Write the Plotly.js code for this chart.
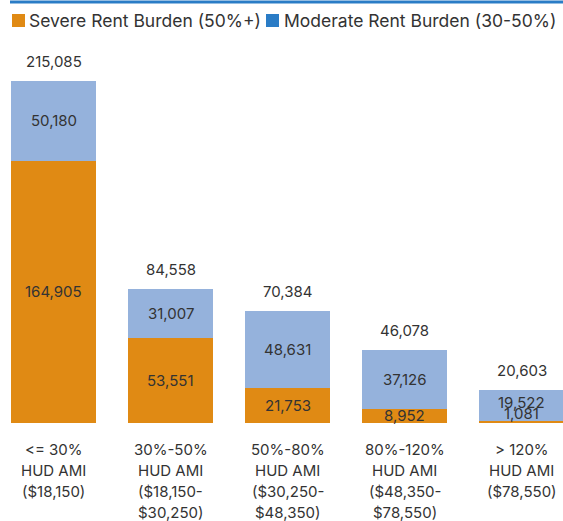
<!DOCTYPE html>
<html><head><meta charset="utf-8">
<script src="https://cdn.plot.ly/plotly-3.0.1.min.js"></script>
<style>html,body{margin:0;padding:0;background:#fff;}#chart{width:563px;height:521px;}</style>
</head><body><div id="chart"></div>
<script>
const categories = ["<= 30%", "30%-50%", "50%-80%", "80%-120%", "> 120%"];
const labelLines = [
  ["<= 30%", "HUD AMI", "($18,150)"],
  ["30%-50%", "HUD AMI", "($18,150-", "$30,250)"],
  ["50%-80%", "HUD AMI", "($30,250-", "$48,350)"],
  ["80%-120%", "HUD AMI", "($48,350-", "$78,550)"],
  ["> 120%", "HUD AMI", "($78,550)"]
];
const severe = [164905, 53551, 21753, 8952, 1081];
const moderate = [50180, 31007, 48631, 37126, 19522];
const totals = [215085, 84558, 70384, 46078, 20603];

const ORANGE = "#E08A14", LIGHTBLUE = "#95B2DC", DARKBLUE = "#2A7CC6", TXT = "#333333";
const FONT = "Inter, 'Open Sans', sans-serif";
const xs = categories.map((c, i) => i);
const fmt = v => v.toLocaleString("en-US");

const traces = [
  {type: "bar", name: "Severe Rent Burden (50%+)", x: xs, y: severe, marker: {color: ORANGE}, width: 0.726, hoverinfo: "none"},
  {type: "bar", name: "Moderate Rent Burden (30-50%)", x: xs, y: moderate, marker: {color: LIGHTBLUE}, width: 0.726, hoverinfo: "none"}
];

const maxT = Math.max(...totals);
const pxPerUnit = 342 / maxT;
const ann = [];
xs.forEach((x, i) => {
  const small = severe[i] * pxPerUnit < 10;
  ann.push({x: x, y: severe[i] / 2, text: fmt(severe[i]), showarrow: false, yshift: small ? 9 : 0,
    font: {family: FONT, size: 15, color: TXT}});
  ann.push({x: x, y: severe[i] + moderate[i] / 2, text: fmt(moderate[i]), showarrow: false, yshift: small ? 3 : 0,
    font: {family: FONT, size: 15, color: TXT}});
  ann.push({x: x, y: totals[i], text: fmt(totals[i]), showarrow: false, yanchor: "bottom", yshift: 8,
    font: {family: FONT, size: 15, color: TXT}});
  labelLines[i].forEach((ln, k) => {
    ann.push({x: x, y: 0, text: ln, showarrow: false, yanchor: "middle", yshift: -26 - k * 21,
      font: {family: FONT, size: 15, color: TXT}});
  });
});
// legend (manual)
ann.push({xref: "paper", yref: "paper", x: 27 / 563, y: 1, yshift: 81 - 20, xanchor: "left", yanchor: "middle",
  text: traces[0].name, showarrow: false, font: {family: FONT, size: 17.5, color: TXT}});
ann.push({xref: "paper", yref: "paper", x: 282 / 563, y: 1, yshift: 81 - 20, xanchor: "left", yanchor: "middle",
  text: traces[1].name, showarrow: false, font: {family: FONT, size: 17.5, color: TXT}});

const topPx = y => 1 + (81 - y) / 342; // paper y from pixel
const shapes = [
  {type: "line", xref: "paper", yref: "paper", x0: 10 / 563, x1: 1, y0: topPx(2), y1: topPx(2), line: {color: DARKBLUE, width: 3}},
  {type: "rect", xref: "paper", yref: "paper", x0: 12 / 563, x1: 25 / 563, y0: topPx(27), y1: topPx(14), fillcolor: ORANGE, line: {width: 0}},
  {type: "rect", xref: "paper", yref: "paper", x0: 266 / 563, x1: 279 / 563, y0: topPx(27), y1: topPx(14), fillcolor: DARKBLUE, line: {width: 0}}
];

const layout = {
  width: 563, height: 521, barmode: "stack", showlegend: false,
  margin: {l: 0, r: 0, t: 81, b: 98, pad: 0},
  paper_bgcolor: "#fff", plot_bgcolor: "#fff",
  xaxis: {range: [-53.5 / 117, (563 - 53.5) / 117], showticklabels: false, showgrid: false, zeroline: false, ticks: "", fixedrange: true},
  yaxis: {range: [0, maxT], visible: false, fixedrange: true},
  annotations: ann, shapes: shapes, font: {family: FONT}
};
Plotly.newPlot("chart", traces, layout, {displayModeBar: false, staticPlot: true});
</script>
</body></html>
